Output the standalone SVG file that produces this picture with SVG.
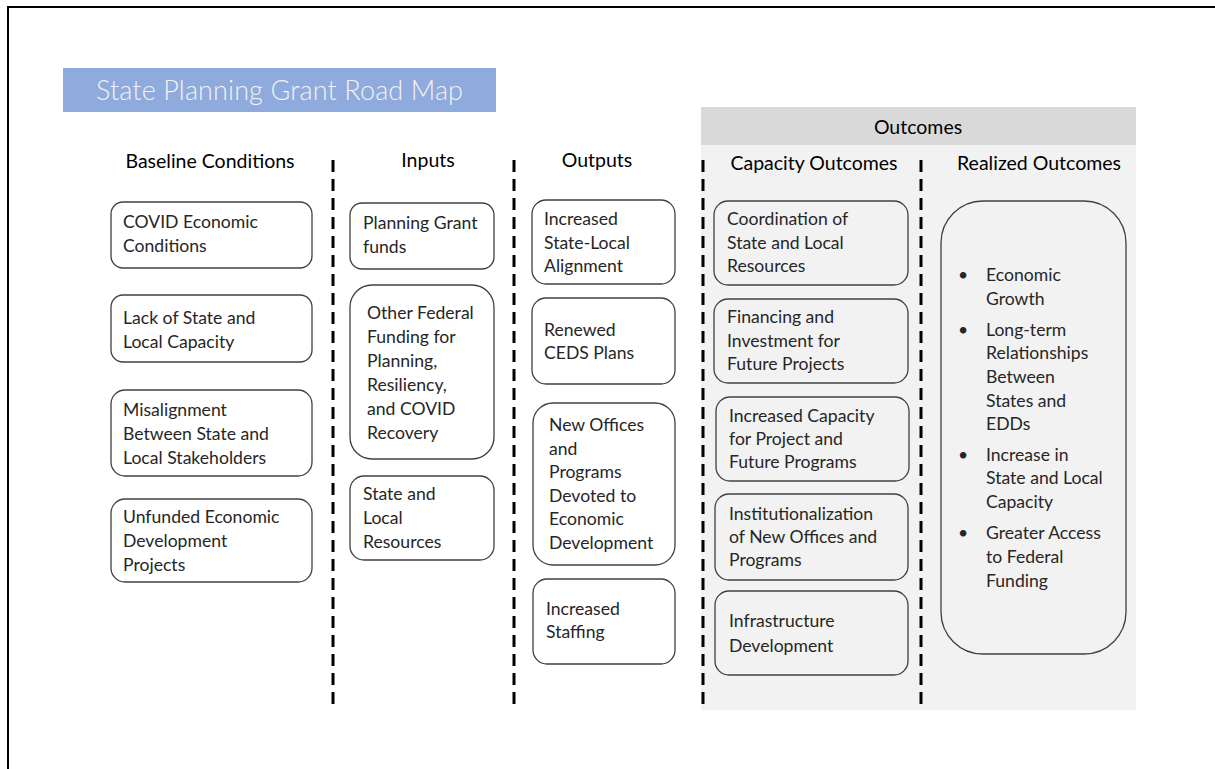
<svg xmlns="http://www.w3.org/2000/svg" width="1215" height="769" viewBox="0 0 1215 769">
<style>
.t{font-family:Lato,"Noto Sans","Liberation Sans",sans-serif;font-size:17.6px;fill:#262626}
.h{font-family:Lato,"Noto Sans","Liberation Sans",sans-serif;font-size:19.5px;fill:#000;text-anchor:middle}
.b{fill:#fff;stroke:#404040;stroke-width:1.3}
.bg{fill:#f2f2f2;stroke:#404040;stroke-width:1.3}
.d{stroke:#000;stroke-width:3;stroke-dasharray:12 7;fill:none}
</style>
<rect width="1215" height="769" fill="#fff"/>
<path d="M8 769 V7 H1215" fill="none" stroke="#000" stroke-width="2"/>
<g id="title">
<rect x="63" y="68" width="433" height="44" fill="#8faadc"/>
<text x="96" y="100" textLength="367" lengthAdjust="spacing" style="font-family:Lato,'Noto Sans',sans-serif;font-size:27px;font-weight:300;fill:#f2f2f2">State Planning Grant Road Map</text>
</g>
<g id="outcomes-panel">
<rect x="701" y="145" width="435" height="565" fill="#f2f2f2"/>
<rect x="701" y="107" width="435" height="38" fill="#d9d9d9"/>
<text class="h" x="918" y="134">Outcomes</text>
</g>
<g id="headers">
<text class="h" x="210" y="168">Baseline Conditions</text>
<text class="h" x="428" y="167">Inputs</text>
<text class="h" x="597" y="167">Outputs</text>
<text class="h" x="814" y="170">Capacity Outcomes</text>
<text class="h" x="1039" y="170">Realized Outcomes</text>
</g>
<g id="connectors">
<line class="d" x1="333" y1="160" x2="333" y2="708"/>
<line class="d" x1="514" y1="160" x2="514" y2="708"/>
<line class="d" x1="703" y1="160" x2="703" y2="710"/>
<line class="d" x1="921" y1="160" x2="921" y2="710"/>
</g>
<g id="b1"><rect class="b" x="111" y="202" width="201" height="66" rx="12"/>
<text class="t" x="123" y="228">COVID Economic</text><text class="t" x="123" y="252">Conditions</text></g>
<g id="b2"><rect class="b" x="111" y="295" width="201" height="67" rx="12"/>
<text class="t" x="123" y="324">Lack of State and</text><text class="t" x="123" y="348">Local Capacity</text></g>
<g id="b3"><rect class="b" x="111" y="390" width="201" height="86" rx="14"/>
<text class="t" x="123" y="416">Misalignment</text><text class="t" x="123" y="440">Between State and</text><text class="t" x="123" y="464">Local Stakeholders</text></g>
<g id="b4"><rect class="b" x="111" y="499" width="201" height="83" rx="14"/>
<text class="t" x="123" y="523">Unfunded Economic</text><text class="t" x="123" y="547">Development</text><text class="t" x="123" y="571">Projects</text></g>
<g id="i1"><rect class="b" x="350" y="203" width="144" height="66" rx="12"/>
<text class="t" x="363" y="229">Planning Grant</text><text class="t" x="363" y="253">funds</text></g>
<g id="i2"><rect class="b" x="350" y="285" width="144" height="174" rx="22"/>
<text class="t" x="367" y="319">Other Federal</text><text class="t" x="367" y="343">Funding for</text><text class="t" x="367" y="367">Planning,</text><text class="t" x="367" y="391">Resiliency,</text><text class="t" x="367" y="415">and COVID</text><text class="t" x="367" y="439">Recovery</text></g>
<g id="i3"><rect class="b" x="350" y="476" width="144" height="84" rx="14"/>
<text class="t" x="363" y="500">State and</text><text class="t" x="363" y="524">Local</text><text class="t" x="363" y="548">Resources</text></g>
<g id="o1"><rect class="b" x="532" y="200" width="143" height="84" rx="14"/>
<text class="t" x="544" y="225">Increased</text><text class="t" x="544" y="249">State-Local</text><text class="t" x="544" y="272">Alignment</text></g>
<g id="o2"><rect class="b" x="532" y="298" width="143" height="86" rx="14"/>
<text class="t" x="544" y="336">Renewed</text><text class="t" x="544" y="359">CEDS Plans</text></g>
<g id="o3"><rect class="b" x="533" y="403" width="142" height="162" rx="20"/>
<text class="t" x="549" y="431">New Offices</text><text class="t" x="549" y="455">and</text><text class="t" x="549" y="478">Programs</text><text class="t" x="549" y="502">Devoted to</text><text class="t" x="549" y="525">Economic</text><text class="t" x="549" y="549">Development</text></g>
<g id="o4"><rect class="b" x="533" y="579" width="142" height="85" rx="14"/>
<text class="t" x="546" y="615">Increased</text><text class="t" x="546" y="638">Staffing</text></g>
<g id="c1"><rect class="bg" x="714" y="201" width="194" height="84" rx="14"/>
<text class="t" x="727" y="225">Coordination of</text><text class="t" x="727" y="249">State and Local</text><text class="t" x="727" y="272">Resources</text></g>
<g id="c2"><rect class="bg" x="714" y="299" width="194" height="84" rx="14"/>
<text class="t" x="727" y="323">Financing and</text><text class="t" x="727" y="347">Investment for</text><text class="t" x="727" y="370">Future Projects</text></g>
<g id="c3"><rect class="bg" x="716" y="397" width="193" height="84" rx="14"/>
<text class="t" x="729" y="422">Increased Capacity</text><text class="t" x="729" y="445">for Project and</text><text class="t" x="729" y="468">Future Programs</text></g>
<g id="c4"><rect class="bg" x="715" y="494" width="193" height="86" rx="14"/>
<text class="t" x="729" y="520">Institutionalization</text><text class="t" x="729" y="543">of New Offices and</text><text class="t" x="729" y="566">Programs</text></g>
<g id="c5"><rect class="bg" x="715" y="591" width="193" height="84" rx="14"/>
<text class="t" x="729" y="627">Infrastructure</text><text class="t" x="729" y="652">Development</text></g>
<g id="r1"><rect class="bg" x="941" y="201" width="185" height="453" rx="42"/>
<text class="t" x="958" y="281">•</text><text class="t" x="986" y="281">Economic</text><text class="t" x="986" y="305">Growth</text>
<text class="t" x="958" y="336">•</text><text class="t" x="986" y="336">Long-term</text><text class="t" x="986" y="359">Relationships</text><text class="t" x="986" y="383">Between</text><text class="t" x="986" y="407">States and</text><text class="t" x="986" y="430">EDDs</text>
<text class="t" x="958" y="461">•</text><text class="t" x="986" y="461">Increase in</text><text class="t" x="986" y="484">State and Local</text><text class="t" x="986" y="508">Capacity</text>
<text class="t" x="958" y="539">•</text><text class="t" x="986" y="539">Greater Access</text><text class="t" x="986" y="563">to Federal</text><text class="t" x="986" y="587">Funding</text></g>
</svg>
